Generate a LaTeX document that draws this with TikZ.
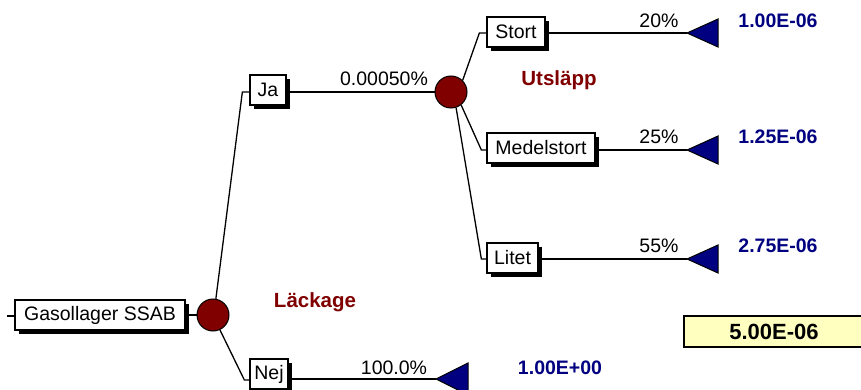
\documentclass[tikz,border=0pt]{standalone}
\usepackage{fontspec}
\setmainfont{Liberation Sans}
\usetikzlibrary{shadows,calc}

\definecolor{nodered}{RGB}{128,0,0}
\definecolor{endblue}{RGB}{0,0,128}
\definecolor{sumyellow}{RGB}{255,255,192}

\tikzset{
  branchbox/.style={draw=black, fill=white, line width=1.3pt, minimum height=30pt,
    inner sep=0pt, font=\fontsize{19.5}{22}\selectfont,
    drop shadow={shadow xshift=4pt, shadow yshift=-4pt, fill=black, opacity=1}},
  chance/.style={circle, draw=black, fill=nodered, line width=1pt, minimum size=32pt, inner sep=0pt},
  wire/.style={line width=1.3pt, black},
  endtri/.style={draw=black, fill=endblue, line width=1pt},
  prob/.style={font=\fontsize{19.5}{22}\selectfont, inner sep=0pt},
  value/.style={font=\bfseries\fontsize{19.5}{22}\selectfont, text=endblue, inner sep=0pt},
  stage/.style={font=\bfseries\fontsize{20.5}{22}\selectfont, text=nodered, inner sep=0pt},
}

\begin{document}
\begin{tikzpicture}[x=1pt, y=-1pt]
\useasboundingbox (0,0) rectangle (861,390);

% decision boxes
\node[branchbox, minimum width=170pt] (gas) at (100,315) {Gasollager SSAB};
\node[branchbox, minimum width=36pt] (ja) at (268,90) {Ja};
\node[branchbox, minimum width=38pt] (nej) at (269,374) {Nej};
\node[branchbox, minimum width=58pt] (stort) at (516,32) {Stort};
\node[branchbox, minimum width=108pt] (medel) at (541,148) {Medelstort};
\node[branchbox, minimum width=51pt] (litet) at (512.5,258) {Litet};

% chance nodes
\node[chance] (c1) at (213,315) {};
\node[chance] (c2) at (451,92) {};

% end-point tips
\coordinate (t1) at (687,33);
\coordinate (t2) at (687,150);
\coordinate (t3) at (687,259);
\coordinate (t4) at (436,379);
\coordinate (stub) at (7,316);

% wiring
\draw[wire] (stub) -- (stub -| gas.west);
\draw[wire] (gas.east) -- (c1.west);
\draw[wire] (c1.80) -- ($(ja.west)+(-7,2)$) -- ($(ja.west)+(0,2)$);
\draw[wire] (c1.-65) -- ($(nej.west)+(-5,6)$) -- ($(nej.west)+(0,6)$);
\draw[wire] (c2.west -| ja.east) -- (c2.west);
\draw[wire] (c2.45) -- ($(stort.west)+(-7,1)$) -- ($(stort.west)+(0,1)$);
\draw[wire] (c2.-52) -- ($(medel.west)+(-5,2)$) -- ($(medel.west)+(0,2)$);
\draw[wire] (c2.-72) -- ($(litet.west)+(-5,1)$) -- ($(litet.west)+(0,1)$);
\draw[wire] (t1 -| stort.east) -- (t1);
\draw[wire] (t2 -| medel.east) -- (t2);
\draw[wire] (t3 -| litet.east) -- (t3);
\draw[wire] (t4 -| nej.east) -- (t4);

% terminal triangles
\draw[endtri] (t1) -- ++(31,-14) -- ++(0,28) -- cycle;
\draw[endtri] (t2) -- ++(31,-14) -- ++(0,28) -- cycle;
\draw[endtri] (t3) -- ++(31,-14) -- ++(0,28) -- cycle;
\draw[endtri] (t4) -- ++(32,-16) -- ++(0,32) -- cycle;

% probabilities
\node[prob] (p0) at (384,79) {0.00050\%};
\node[prob] (p1) at (659,21) {20\%};
\node[prob] (p2) at (659,137) {25\%};
\node[prob] (p3) at (659,246) {55\%};
\node[prob] (p4) at (394,368) {100.0\%};

% outcome values
\node[value] (v1) at (778,21) {1.00E-06};
\node[value] (v2) at (778,137) {1.25E-06};
\node[value] (v3) at (778,246) {2.75E-06};
\node[value] (v4) at (560,368) {1.00E+00};

% stage labels
\node[stage] (utslapp) at (559,80) {Utsläpp};
\node[stage] (lackage) at (315,302) {Läckage};

% total
\node[draw=black, fill=sumyellow, line width=2pt, minimum width=180pt, minimum height=31pt,
      inner sep=0pt, font=\bfseries\fontsize{22}{24}\selectfont] (total) at (774,331.5) {5.00E-06};
\end{tikzpicture}
\end{document}
